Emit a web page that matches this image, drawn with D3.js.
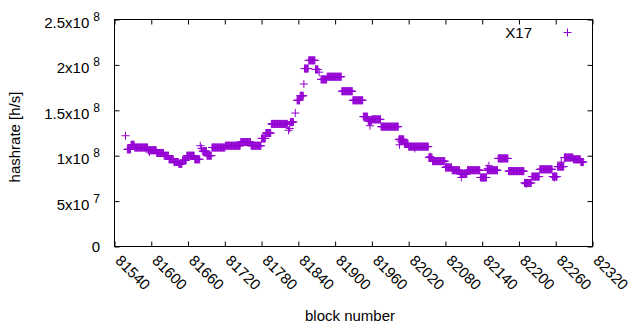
<!DOCTYPE html>
<html><head><meta charset="utf-8">
<script src="https://cdn.jsdelivr.net/npm/d3@7"></script>
<style>html,body{margin:0;padding:0;background:#fff;}svg{display:block;font-family:"Liberation Sans",Arial,sans-serif;}</style>
</head><body>
<svg id="c" width="640" height="330"></svg>
<script>
// Runs of consecutive blocks with a constant hashrate
const runStart = [81561,81567,81573,81595,81609,81621,81629,81637,81645,81651,81658,81671,81684,81691,81699,81721,81746,81763,81780,81787,81796,81827,81838,81843,81850,81857,81868,81877,81887,81911,81929,81946,81954,81960,81975,82004,82013,82020,82053,82059,82080,82091,82104,82116,82137,82148,82166,82183,82209,82221,82234,82255,82263,82274,82289,82301];
const runEnd   = [81566,81572,81594,81608,81620,81628,81636,81644,81650,81657,81670,81679,81690,81698,81720,81745,81762,81779,81786,81795,81822,81832,81842,81848,81856,81867,81872,81886,81910,81928,81945,81953,81959,81974,82003,82012,82019,82052,82058,82079,82090,82103,82115,82136,82147,82165,82182,82208,82220,82233,82254,82262,82273,82288,82300,82305];
const runValue = [1.07e8,1.12e8,1.09e8,1.06e8,1.03e8,1.00e8,0.96e8,0.93e8,0.91e8,0.95e8,1.00e8,0.96e8,1.05e8,1.00e8,1.09e8,1.11e8,1.15e8,1.11e8,1.19e8,1.25e8,1.35e8,1.37e8,1.61e8,1.66e8,1.96e8,2.05e8,1.95e8,1.84e8,1.87e8,1.71e8,1.61e8,1.43e8,1.38e8,1.40e8,1.32e8,1.18e8,1.13e8,1.10e8,0.98e8,0.94e8,0.87e8,0.84e8,0.80e8,0.84e8,0.76e8,0.84e8,0.97e8,0.83e8,0.70e8,0.77e8,0.85e8,0.77e8,0.88e8,0.98e8,0.96e8,0.93e8];
// Isolated points
const singleBlock = [81558,81597,81680,81682,81824,81826,81835,81849,81874,81957,82005,82007,82030,82055,82082,82106,82149,82151,82212,82258,82269,82276];
const singleValue = [1.22e8,1.04e8,1.11e8,1.08e8,1.28e8,1.30e8,1.47e8,1.79e8,1.92e8,1.33e8,1.12e8,1.16e8,1.08e8,0.99e8,0.88e8,0.76e8,0.86e8,0.89e8,0.69e8,0.76e8,0.93e8,0.98e8];
const xTicks = [81540,81600,81660,81720,81780,81840,81900,81960,82020,82080,82140,82200,82260,82320];
const yTicks = [0,5e7,1e8,1.5e8,2e8,2.5e8];
const yTickMain = ["0","5x10","1x10","1.5x10","2x10","2.5x10"];
const yTickExp  = ["","7","8","8","8","8"];
const seriesName = "X17";
const color = "#9400d3";

const L=114.5,R=592.5,T=19.5,B=246.5;
const svg=d3.select("#c");
const x=d3.scaleLinear().domain([81540,82320]).range([L,R]);
const y=d3.scaleLinear().domain([0,2.5e8]).range([B,T]);

// build points
const pts=[];
runStart.forEach((s,i)=>{for(let b=s;b<=runEnd[i];b++)pts.push([b,runValue[i]]);});
singleBlock.forEach((b,i)=>pts.push([b,singleValue[i]]));

const tl=5;
svg.append("g").attr("transform",`translate(0,${B})`)
  .call(d3.axisBottom(x).tickValues(xTicks).tickSize(-tl).tickFormat(""));
svg.append("g").attr("transform",`translate(0,${T})`)
  .call(d3.axisTop(x).tickValues(xTicks).tickSize(-tl).tickFormat(""));
svg.append("g").attr("transform",`translate(${L},0)`)
  .call(d3.axisLeft(y).tickValues(yTicks).tickSize(-tl).tickFormat(""));
svg.append("g").attr("transform",`translate(${R},0)`)
  .call(d3.axisRight(y).tickValues(yTicks).tickSize(-tl).tickFormat(""));
svg.selectAll(".domain").remove();
svg.selectAll(".tick line").attr("stroke","#000").attr("stroke-width",1);
svg.append("rect").attr("x",L).attr("y",T).attr("width",R-L).attr("height",B-T)
  .attr("fill","none").attr("stroke","#000").attr("stroke-width",1);

// x tick labels rotated
svg.append("g").selectAll("text").data(xTicks).join("text")
  .attr("transform",d=>`translate(${x(d)},${B+15}) rotate(45)`)
  .attr("font-size",15).attr("fill","#000").text(d=>d);

// y tick labels with superscript
const yg=svg.append("g");
yTicks.forEach((d,i)=>{
  const t=yg.append("text").attr("x",100).attr("y",y(d)+(yTickExp[i]?8.5:5.5))
    .attr("text-anchor","end").attr("font-size",15).attr("fill","#000");
  t.append("tspan").text(yTickMain[i]);
  if(yTickExp[i]) t.append("tspan").attr("dx",4).attr("dy",-7).attr("font-size",12).text(yTickExp[i]);
});

// axis titles
svg.append("text").attr("transform",`translate(20,137) rotate(-90)`).attr("text-anchor","middle")
  .attr("font-size",15).text("hashrate [h/s]");
svg.append("text").attr("x",350).attr("y",321).attr("text-anchor","middle").attr("font-size",15).text("block number");

// points
const plus=(cx,cy)=>`M${cx-4},${cy}H${cx+4}M${cx},${cy-4}V${cy+4}`;
svg.append("path").attr("fill","none").attr("stroke",color).attr("stroke-width",1)
  .attr("d",pts.map(p=>plus(x(p[0]),y(p[1]))).join(""));

// legend
svg.append("text").attr("x",532).attr("y",37.5).attr("text-anchor","end").attr("font-size",15).text(seriesName);
svg.append("path").attr("fill","none").attr("stroke",color).attr("d",plus(567.5,32.5));
</script>
</body></html>
